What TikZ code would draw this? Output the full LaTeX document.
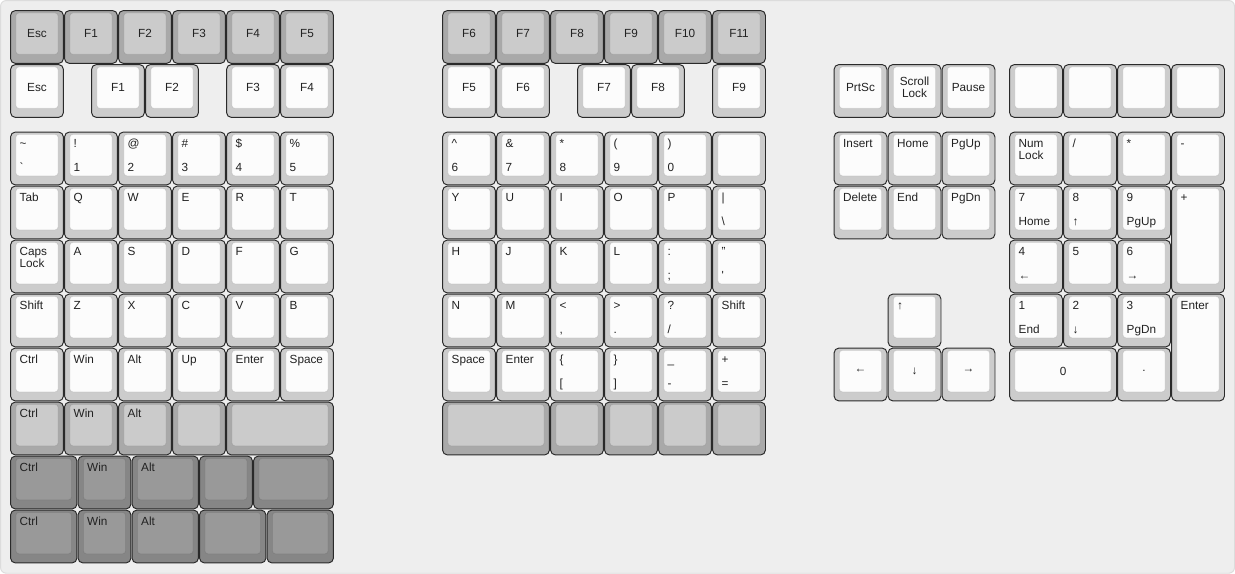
\documentclass[tikz,border=0pt]{standalone}
\usepackage{fontspec}
\setmainfont{Liberation Sans}
\usepackage{tikz}
\usetikzlibrary{calc}
\usepackage{xcolor}
\definecolor{bgfill}{HTML}{EEEEEE}
\definecolor{bgline}{HTML}{DCDCDC}
\definecolor{keyline}{HTML}{2A2A2A}
\definecolor{legendcol}{HTML}{222222}
\definecolor{wrim}{HTML}{CCCCCC}
\definecolor{wtop}{HTML}{FCFCFC}
\definecolor{lrim}{HTML}{A9A9A9}
\definecolor{ltop}{HTML}{CBCBCB}
\definecolor{drim}{HTML}{868686}
\definecolor{dtop}{HTML}{999999}
\tikzstyle{keyrim} = [rectangle, rounded corners=2.6pt, draw=keyline, line width=0.5pt, inner sep=0pt, outer sep=0pt]
\tikzstyle{keytop} = [rectangle, rounded corners=1.6pt, draw=black, draw opacity=0.08, line width=0.4pt, inner sep=0pt, outer sep=0pt]
\tikzstyle{keylabel} = [inner sep=0pt, text=legendcol, align=left, font=\fontsize{6.2}{6.4}\selectfont]

% keycap: colour set, name, cell corner, width, height, top legend, bottom legend, centre legend
\newcommand{\keycap}[8]{%
  \node[keyrim, fill=#1rim, minimum width=#4cm-0.02cm, minimum height=#5cm-0.02cm, anchor=north west] (#2) at ($(#3)+(0.01,0.01)$) {};
  \node[keytop, fill=#1top, minimum width=#4cm-0.22cm, minimum height=#5cm-0.235cm, anchor=north west] (#2-top) at ($(#2.north west)+(0.1,0.045)$) {};
  \if\relax\detokenize{#6}\relax\else
    \node[keylabel, anchor=north west] (#2-tl) at ($(#2.north west)+(0.162,0.123)$) {\vphantom{A}#6};\fi
  \if\relax\detokenize{#7}\relax\else
    \node[keylabel, anchor=base west] (#2-bl) at ($(#2.south west)+(0.162,-0.246)$) {#7};\fi
  \if\relax\detokenize{#8}\relax\else
    \node[keylabel, align=center] (#2-c) at (#2-top.center) {#8};\fi
}

\begin{document}
\begin{tikzpicture}[y=-1cm]
  \useasboundingbox (-0.185,-0.185) rectangle (22.685,10.44);
  \filldraw[fill=bgfill, draw=bgline, line width=0.5pt, rounded corners=3pt] (-0.175,-0.175) rectangle (22.675,10.43);

  % Left half: function rows
  \foreach \lab [count=\i from 0] in {Esc,F1,F2,F3,F4,F5}
    {\keycap{l}{lfa\i}{\i,0}{1}{1}{}{}{\lab}}
  \keycap{w}{lfb0}{0,1}{1}{1}{}{}{Esc}
  \keycap{w}{lfb1}{1.5,1}{1}{1}{}{}{F1}
  \keycap{w}{lfb2}{2.5,1}{1}{1}{}{}{F2}
  \keycap{w}{lfb3}{4,1}{1}{1}{}{}{F3}
  \keycap{w}{lfb4}{5,1}{1}{1}{}{}{F4}

  % Left half: alphanumeric block
  \foreach \up/\dn [count=\i from 0] in {{\textasciitilde}/{\textasciigrave}, !/1, @/2, {\#}/3, {\$}/4, {\%}/5}
    {\keycap{w}{lnum\i}{\i,2.25}{1}{1}{\up}{\dn}{}}
  \foreach \lab [count=\i from 0] in {Tab,Q,W,E,R,T}
    {\keycap{w}{ltop\i}{\i,3.25}{1}{1}{\lab}{}{}}
  \keycap{w}{lhome0}{0,4.25}{1}{1}{Caps\\Lock}{}{}
  \foreach \lab [count=\i from 1] in {A,S,D,F,G}
    {\keycap{w}{lhome\i}{\i,4.25}{1}{1}{\lab}{}{}}
  \foreach \lab [count=\i from 0] in {Shift,Z,X,C,V,B}
    {\keycap{w}{lbot\i}{\i,5.25}{1}{1}{\lab}{}{}}
  \foreach \lab [count=\i from 0] in {Ctrl,Win,Alt,Up,Enter,Space}
    {\keycap{w}{lmod\i}{\i,6.25}{1}{1}{\lab}{}{}}

  % Left half: thumb rows
  \foreach \lab [count=\i from 0] in {Ctrl,Win,Alt}
    {\keycap{l}{lta\i}{\i,7.25}{1}{1}{\lab}{}{}}
  \keycap{l}{lta3}{3,7.25}{1}{1}{}{}{}
  \keycap{l}{lta4}{4,7.25}{2}{1}{}{}{}
  \keycap{d}{ltb0}{0,8.25}{1.25}{1}{Ctrl}{}{}
  \keycap{d}{ltb1}{1.25,8.25}{1}{1}{Win}{}{}
  \keycap{d}{ltb2}{2.25,8.25}{1.25}{1}{Alt}{}{}
  \keycap{d}{ltb3}{3.5,8.25}{1}{1}{}{}{}
  \keycap{d}{ltb4}{4.5,8.25}{1.5}{1}{}{}{}
  \keycap{d}{ltc0}{0,9.25}{1.25}{1}{Ctrl}{}{}
  \keycap{d}{ltc1}{1.25,9.25}{1}{1}{Win}{}{}
  \keycap{d}{ltc2}{2.25,9.25}{1.25}{1}{Alt}{}{}
  \keycap{d}{ltc3}{3.5,9.25}{1.25}{1}{}{}{}
  \keycap{d}{ltc4}{4.75,9.25}{1.25}{1}{}{}{}

  % Right half: function rows
  \foreach \lab [count=\i from 8] in {F6,F7,F8,F9,F10,F11}
    {\keycap{l}{mfa\i}{\i,0}{1}{1}{}{}{\lab}}
  \keycap{w}{mfb0}{8,1}{1}{1}{}{}{F5}
  \keycap{w}{mfb1}{9,1}{1}{1}{}{}{F6}
  \keycap{w}{mfb2}{10.5,1}{1}{1}{}{}{F7}
  \keycap{w}{mfb3}{11.5,1}{1}{1}{}{}{F8}
  \keycap{w}{mfb4}{13,1}{1}{1}{}{}{F9}

  % Right half: alphanumeric block
  \foreach \up/\dn [count=\i from 8] in {{\textasciicircum}/6, {\&}/7, {*}/8, {(}/9, {)}/0}
    {\keycap{w}{mnum\i}{\i,2.25}{1}{1}{\up}{\dn}{}}
  \keycap{w}{mnum13}{13,2.25}{1}{1}{}{}{}
  \foreach \lab [count=\i from 8] in {Y,U,I,O,P}
    {\keycap{w}{mtop\i}{\i,3.25}{1}{1}{\lab}{}{}}
  \keycap{w}{mtop13}{13,3.25}{1}{1}{\textbar}{\textbackslash}{}
  \foreach \lab [count=\i from 8] in {H,J,K,L}
    {\keycap{w}{mhome\i}{\i,4.25}{1}{1}{\lab}{}{}}
  \keycap{w}{mhome12}{12,4.25}{1}{1}{:}{;}{}
  \keycap{w}{mhome13}{13,4.25}{1}{1}{"}{\textquotesingle}{}
  \keycap{w}{mbot8}{8,5.25}{1}{1}{N}{}{}
  \keycap{w}{mbot9}{9,5.25}{1}{1}{M}{}{}
  \keycap{w}{mbot10}{10,5.25}{1}{1}{<}{,}{}
  \keycap{w}{mbot11}{11,5.25}{1}{1}{>}{.}{}
  \keycap{w}{mbot12}{12,5.25}{1}{1}{?}{/}{}
  \keycap{w}{mbot13}{13,5.25}{1}{1}{Shift}{}{}
  \keycap{w}{mmod8}{8,6.25}{1}{1}{Space}{}{}
  \keycap{w}{mmod9}{9,6.25}{1}{1}{Enter}{}{}
  \keycap{w}{mmod10}{10,6.25}{1}{1}{\{}{[}{}
  \keycap{w}{mmod11}{11,6.25}{1}{1}{\}}{]}{}
  \keycap{w}{mmod12}{12,6.25}{1}{1}{\_}{-}{}
  \keycap{w}{mmod13}{13,6.25}{1}{1}{+}{=}{}

  % Right half: thumb row
  \keycap{l}{mta8}{8,7.25}{2}{1}{}{}{}
  \foreach \i in {10,11,12,13}
    {\keycap{l}{mta\i}{\i,7.25}{1}{1}{}{}{}}

  % Navigation cluster
  \keycap{w}{rsys0}{15.25,1}{1}{1}{}{}{PrtSc}
  \keycap{w}{rsys1}{16.25,1}{1}{1}{}{}{Scroll\\Lock}
  \keycap{w}{rsys2}{17.25,1}{1}{1}{}{}{Pause}
  \keycap{w}{rnav0}{15.25,2.25}{1}{1}{Insert}{}{}
  \keycap{w}{rnav1}{16.25,2.25}{1}{1}{Home}{}{}
  \keycap{w}{rnav2}{17.25,2.25}{1}{1}{PgUp}{}{}
  \keycap{w}{rnav3}{15.25,3.25}{1}{1}{Delete}{}{}
  \keycap{w}{rnav4}{16.25,3.25}{1}{1}{End}{}{}
  \keycap{w}{rnav5}{17.25,3.25}{1}{1}{PgDn}{}{}
  \keycap{w}{rarr0}{16.25,5.25}{1}{1}{↑}{}{}
  \keycap{w}{rarr1}{15.25,6.25}{1}{1}{}{}{←}
  \keycap{w}{rarr2}{16.25,6.25}{1}{1}{}{}{↓}
  \keycap{w}{rarr3}{17.25,6.25}{1}{1}{}{}{→}

  % Numpad
  \foreach \x [count=\i from 0] in {18.5,19.5,20.5,21.5}
    {\keycap{w}{rblank\i}{\x,1}{1}{1}{}{}{}}
  \keycap{w}{np0}{18.5,2.25}{1}{1}{Num\\Lock}{}{}
  \keycap{w}{np1}{19.5,2.25}{1}{1}{/}{}{}
  \keycap{w}{np2}{20.5,2.25}{1}{1}{*}{}{}
  \keycap{w}{np3}{21.5,2.25}{1}{1}{-}{}{}
  \keycap{w}{np4}{18.5,3.25}{1}{1}{7}{Home}{}
  \keycap{w}{np5}{19.5,3.25}{1}{1}{8}{↑}{}
  \keycap{w}{np6}{20.5,3.25}{1}{1}{9}{PgUp}{}
  \keycap{w}{np7}{21.5,3.25}{1}{2}{+}{}{}
  \keycap{w}{np8}{18.5,4.25}{1}{1}{4}{←}{}
  \keycap{w}{np9}{19.5,4.25}{1}{1}{5}{}{}
  \keycap{w}{np10}{20.5,4.25}{1}{1}{6}{→}{}
  \keycap{w}{np11}{18.5,5.25}{1}{1}{1}{End}{}
  \keycap{w}{np12}{19.5,5.25}{1}{1}{2}{↓}{}
  \keycap{w}{np13}{20.5,5.25}{1}{1}{3}{PgDn}{}
  \keycap{w}{np14}{21.5,5.25}{1}{2}{Enter}{}{}
  \keycap{w}{np15}{18.5,6.25}{2}{1}{}{}{0}
  \keycap{w}{np16}{20.5,6.25}{1}{1}{}{}{.}
\end{tikzpicture}
\end{document}
